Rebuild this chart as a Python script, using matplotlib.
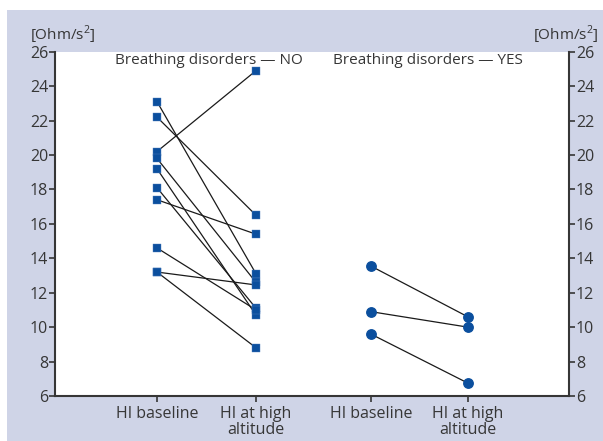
import matplotlib
matplotlib.use("Agg")
import matplotlib.pyplot as plt
from matplotlib.patches import Rectangle

# HI values [Ohm/s^2], each pair = one subject (baseline, high altitude)
no_baseline = [23.1, 22.2, 20.2, 19.8, 19.2, 18.1, 17.4, 14.6, 13.2, 13.2]
no_altitude = [13.1, 16.5, 24.9, 12.6, 10.7, 11.1, 15.4, 11.0, 12.45, 8.8]
yes_baseline = [13.55, 10.9, 9.6]
yes_altitude = [10.6, 10.0, 6.75]

tick_labels = ["HI baseline", "HI at high\naltitude", "HI baseline", "HI at high\naltitude"]
group_titles = ["Breathing disorders \u2014 NO", "Breathing disorders \u2014 YES"]
unit = "[Ohm/s$^{2}$]"
y_ticks = list(range(6, 27, 2))

blue = "#0b4f9e"
frame = "#cfd4e7"
ink = "#363636"

plt.rcParams["font.family"] = ["Open Sans", "DejaVu Sans"]
plt.rcParams["mathtext.fontset"] = "custom"
plt.rcParams["mathtext.rm"] = "Open Sans"

fig = plt.figure(figsize=(6.03, 4.41), dpi=100)
fig.patches.append(Rectangle((7 / 603, 0), 1, 1 - 10 / 441, transform=fig.transFigure,
                             facecolor=frame, edgecolor="none", zorder=-10))

W, H = 603, 441
ax = fig.add_axes([55 / W, 1 - 396 / H, (569 - 55) / W, (396 - 51.7) / H])
ax.set_facecolor("white")

xpos = [1, 2, 3.16, 4.14]

for b, a in zip(no_baseline, no_altitude):
    ax.plot([xpos[0], xpos[1]], [b, a], color="#1a1a1a", lw=0.9, zorder=2)
ax.plot([xpos[0]] * len(no_baseline), no_baseline, "s", color=blue, ms=6.2, mec="#4f7fbd",
        mew=0.3, ls="none", zorder=3)
ax.plot([xpos[1]] * len(no_altitude), no_altitude, "s", color=blue, ms=6.2, mec="#4f7fbd",
        mew=0.3, ls="none", zorder=3)

for b, a in zip(yes_baseline, yes_altitude):
    ax.plot([xpos[2], xpos[3]], [b, a], color="#1a1a1a", lw=0.9, zorder=2)
ax.plot([xpos[2]] * len(yes_baseline), yes_baseline, "o", color=blue, ms=6.8, ls="none", zorder=3)
ax.plot([xpos[3]] * len(yes_altitude), yes_altitude, "o", color=blue, ms=6.8, ls="none", zorder=3)

ax.set_xlim(1 - 102 / 99, 1 + (569 - 157) / 99)
ax.set_ylim(6, 26)
ax.set_yticks(y_ticks)
ax.set_xticks(xpos)
ax.set_xticklabels(tick_labels, fontsize=11, color=ink, linespacing=1.0)
ax.tick_params(axis="both", colors=ink, labelsize=11.5, length=4, width=1.2, direction="out",
               pad=1)
ax.tick_params(axis="x", pad=3)
ax.tick_params(axis="y", left=True, right=True, labelleft=True, labelright=True)
for lab in ax.get_yticklabels():
    lab.set_color(ink)

for s in ["left", "right", "bottom"]:
    ax.spines[s].set_color(ink)
    ax.spines[s].set_linewidth(1.5)
ax.spines["top"].set_visible(False)

ax.text((xpos[0] + xpos[1]) / 2 + 0.02, 25.5, group_titles[0], ha="center", va="center",
        fontsize=11, color=ink)
ax.text((xpos[2] + xpos[3]) / 2 + 0.09, 25.5, group_titles[1], ha="center", va="center",
        fontsize=11, color=ink)

fig.text(30 / W, 1 - 35 / H, unit, ha="left", va="center", fontsize=11, color=ink)
fig.text(599 / W, 1 - 35 / H, unit, ha="right", va="center", fontsize=11, color=ink)

fig.savefig("out.png", dpi=100)
